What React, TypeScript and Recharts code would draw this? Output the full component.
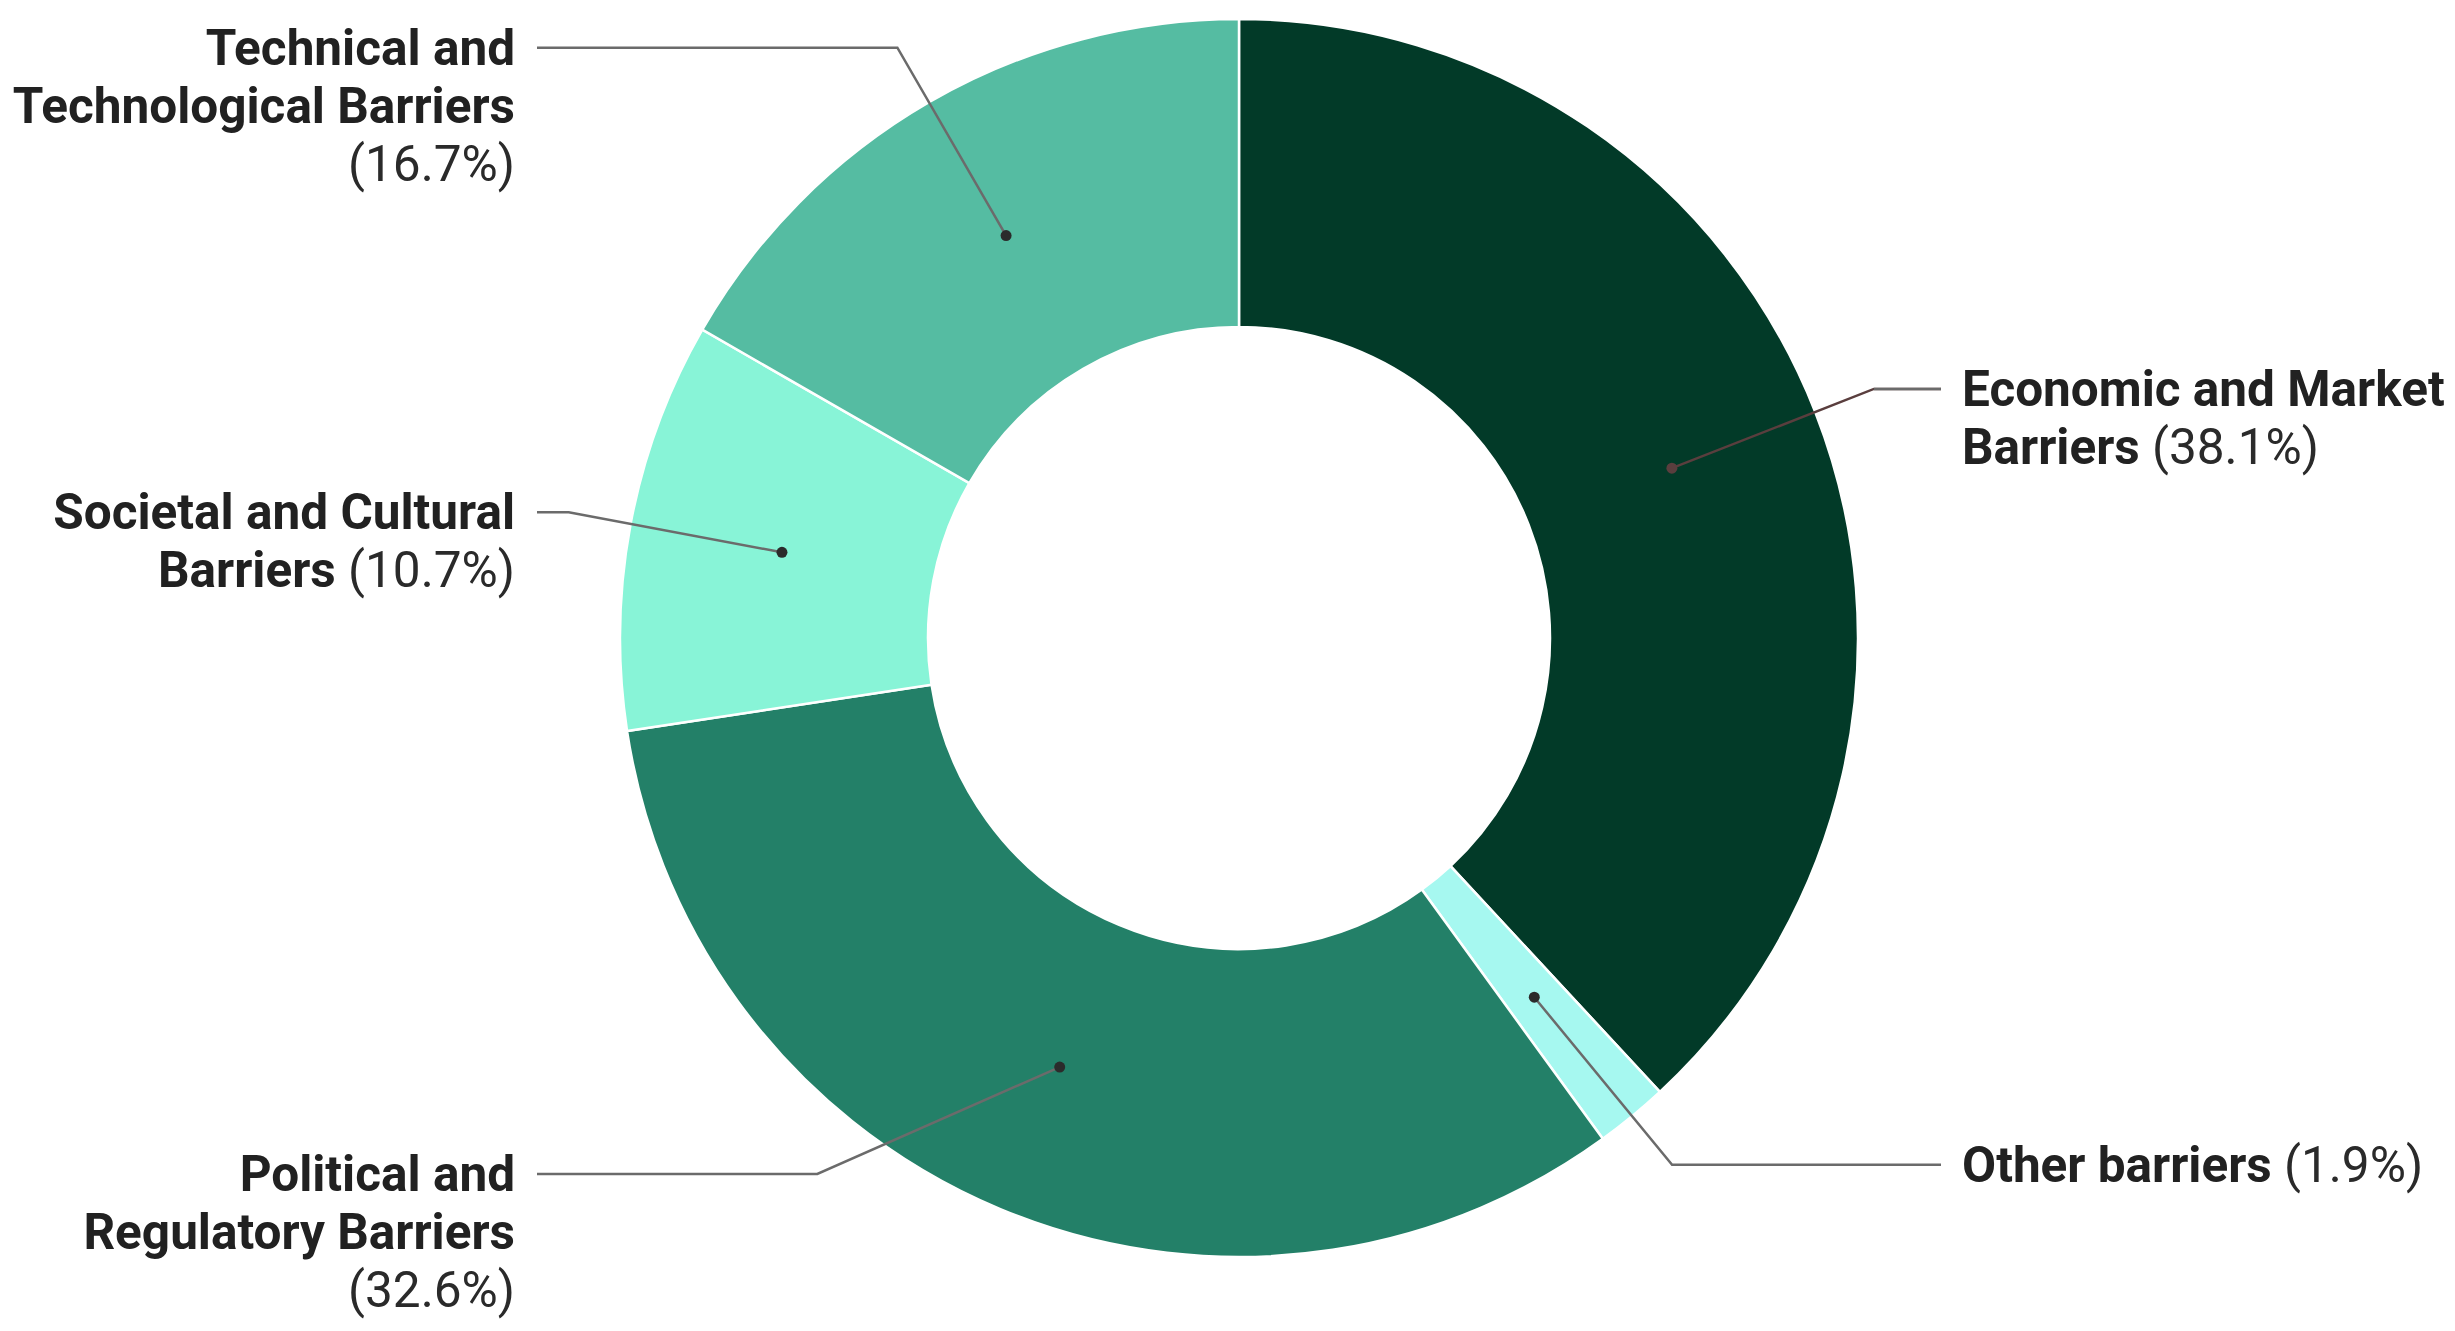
import React from "react";
import { PieChart, Pie, Cell } from "recharts";

const categories = [
  "Economic and Market Barriers",
  "Other barriers",
  "Political and Regulatory Barriers",
  "Societal and Cultural Barriers",
  "Technical and Technological Barriers",
];
const shares = [38.1, 1.9, 32.6, 10.7, 16.7];
const labelWraps: string[][] = [
  ["Economic and Market", "Barriers"],
  ["Other barriers"],
  ["Political and", "Regulatory Barriers", ""],
  ["Societal and Cultural", "Barriers"],
  ["Technical and", "Technological Barriers", ""],
];
const colors = ["#023a28", "#a6f8f0", "#238068", "#88f4d7", "#55bca2"];

const data = categories.map((name, i) => ({ name, value: shares[i] }));

const W = 2455;
const H = 1331;
const CX = 1239;
const CY = 638;
const INNER = 311;
const OUTER = 619;
const LINE_H = 58;
const FONT = 49.5;
const RAD = Math.PI / 180;

function isDark(hex: string) {
  const r = parseInt(hex.slice(1, 3), 16);
  const g = parseInt(hex.slice(3, 5), 16);
  const b = parseInt(hex.slice(5, 7), 16);
  return 0.299 * r + 0.587 * g + 0.114 * b < 80;
}

function renderLabel(props: any) {
  const { cx, cy, midAngle, innerRadius, outerRadius, index, value } = props;
  const cos = Math.cos(-midAngle * RAD);
  const sin = Math.sin(-midAngle * RAD);
  const dotR = (innerRadius + outerRadius) / 2;
  const elbowR = outerRadius + 63;
  const dx = cx + dotR * cos;
  const dy = cy + dotR * sin;
  const right = cos >= 0;
  const lines = labelWraps[index];
  const n = lines.length;
  let y = cy + elbowR * sin;
  const maxY = H - 41 - (n - 1) * LINE_H;
  const minY = 45;
  y = Math.min(Math.max(y, minY), maxY);
  const off = Math.sqrt(Math.max(elbowR * elbowR - (y - cy) * (y - cy), 0));
  const ex = right ? cx + off : cx - off;
  const lineEnd = right ? cx + outerRadius + 83 : cx - outerRadius - 83;
  const tx = right ? cx + outerRadius + 104 : cx - outerRadius - 105;
  const pct = `(${Number(value).toFixed(1)}%)`;
  const dark = isDark(colors[index]);
  const innerStroke = dark ? "#5a3e3e" : "#3a3a3a";
  // point where the leader leaves the ring
  const exitR = outerRadius;
  const t = Math.atan2(y - cy, ex - cx);
  void t;
  void exitR;
  return (
    <g key={`lbl-${index}`}>
      <polyline
        points={`${dx},${dy} ${ex},${y} ${lineEnd},${y}`}
        fill="none"
        stroke={dark ? innerStroke : "#6b6b6b"}
        strokeWidth={2.5}
      />
      {dark && (
        <polyline
          points={`${ex},${y} ${lineEnd},${y}`}
          fill="none"
          stroke="#6b6b6b"
          strokeWidth={2.5}
        />
      )}
      <circle cx={dx} cy={dy} r={5.5} fill={dark ? innerStroke : "#2b2b2b"} />
      {lines.map((ln, i) => {
        const last = i === n - 1;
        return (
          <text
            key={i}
            x={tx}
            y={y + i * LINE_H}
            textAnchor={right ? "start" : "end"}
            dominantBaseline="central"
            fontFamily="Roboto, sans-serif"
            fontSize={FONT}
            fill="#212121"
          >
            {ln && <tspan fontWeight={700}>{ln}</tspan>}
            {last && (
              <tspan fontWeight={400} fill="#2a2a2a">
                {ln ? " " + pct : pct}
              </tspan>
            )}
          </text>
        );
      })}
    </g>
  );
}

export default function App() {
  return (
    <div style={{ position: "absolute", left: 0, top: 0, width: W, height: H, background: "#fff" }}>
      <PieChart width={W} height={H} margin={{ top: 0, right: 0, bottom: 0, left: 0 }}>
        <Pie
          data={data}
          dataKey="value"
          nameKey="name"
          cx={CX}
          cy={CY}
          innerRadius={INNER}
          outerRadius={OUTER}
          startAngle={90}
          endAngle={-270}
          stroke="#ffffff"
          strokeWidth={2.5}
          label={renderLabel}
          labelLine={false}
          isAnimationActive={false}
        >
          {data.map((d, i) => (
            <Cell key={d.name} fill={colors[i]} />
          ))}
        </Pie>
      </PieChart>
    </div>
  );
}
